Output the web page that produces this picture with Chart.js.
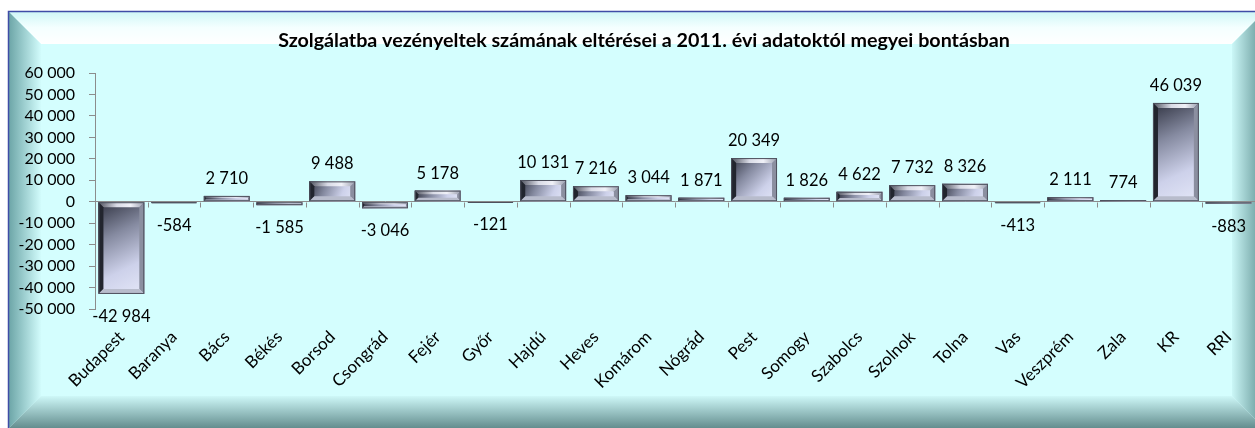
<!DOCTYPE html>
<html lang="hu">
<head>
<meta charset="utf-8">
<title>Szolgálatba vezényeltek – megyei bontás</title>
<script src="https://cdn.jsdelivr.net/npm/chart.js@4.4.1/dist/chart.umd.min.js"></script>
<style>
  html, body { margin: 0; padding: 0; background: #fff; overflow: hidden; }
  #wrap { position: relative; width: 1255px; height: 428px; }
</style>
</head>
<body>
<div id="wrap"><canvas id="chart" width="1255" height="428"></canvas></div>
<script>
const chartTitle = 'Szolgálatba vezényeltek számának eltérései a 2011. évi adatoktól megyei bontásban';

const categories = ['Budapest', 'Baranya', 'Bács', 'Békés', 'Borsod', 'Csongrád', 'Fejér', 'Győr',
    'Hajdú', 'Heves', 'Komárom', 'Nógrád', 'Pest', 'Somogy', 'Szabolcs', 'Szolnok', 'Tolna',
    'Vas', 'Veszprém', 'Zala', 'KR', 'RRI'];

const differences = [-42984, -584, 2710, -1585, 9488, -3046, 5178, -121,
    10131, 7216, 3044, 1871, 20349, 1826, 4622, 7732, 8326,
    -413, 2111, 774, 46039, -883];

const yMin = -50000;
const yMax = 60000;
const yStep = 10000;

const FONT = 'Lato';

// 12345 -> "12 345", negatives keep a plain hyphen
function formatHu(v) {
    const s = String(Math.abs(v)).replace(/\B(?=(\d{3})+(?!\d))/g, ' ');
    return v < 0 ? '-' + s : s;
}

// Bevelled light-cyan frame behind the chart, plus the title
const framePlugin = {
    id: 'frame',
    beforeDraw(chart) {
        const ctx = chart.ctx;
        const x0 = 8, y0 = 11, x1 = 1265, y1 = 429, b = 33;
        ctx.save();
        ctx.fillStyle = '#d4fefe';
        ctx.fillRect(x0, y0, x1 - x0, y1 - y0);

        const band = (pts, fill) => {
            ctx.beginPath();
            ctx.moveTo(pts[0][0], pts[0][1]);
            pts.slice(1).forEach(p => ctx.lineTo(p[0], p[1]));
            ctx.closePath();
            ctx.fillStyle = fill;
            ctx.fill();
        };

        let g = ctx.createLinearGradient(0, y0, 0, y0 + b);
        g.addColorStop(0, '#cdf6f6');
        g.addColorStop(0.5, '#f4ffff');
        g.addColorStop(1, '#ffffff');
        band([[x0, y0], [x1, y0], [x1 - b, y0 + b], [x0 + b, y0 + b]], g);

        g = ctx.createLinearGradient(x0, 0, x0 + b, 0);
        g.addColorStop(0, '#6aa3a5');
        g.addColorStop(1, '#d2fcfc');
        band([[x0, y0], [x0 + b, y0 + b], [x0 + b, y1 - b], [x0, y1]], g);

        g = ctx.createLinearGradient(x1 - b, 0, x1, 0);
        g.addColorStop(0, '#cbf7f7');
        g.addColorStop(1, '#5d8f90');
        band([[x1, y0], [x1, y1], [x1 - b, y1 - b], [x1 - b, y0 + b]], g);

        g = ctx.createLinearGradient(0, y1 - b, 0, y1);
        g.addColorStop(0, '#cef8f8');
        g.addColorStop(1, '#608a8b');
        band([[x0, y1], [x0 + b, y1 - b], [x1 - b, y1 - b], [x1, y1]], g);

        ctx.strokeStyle = '#3f4ca6';
        ctx.lineWidth = 1.5;
        ctx.strokeRect(x0 + 0.5, y0 + 0.5, x1 - x0, y1 - y0);

        ctx.font = 'bold 19.7px ' + FONT;
        ctx.fillStyle = '#000';
        ctx.textAlign = 'center';
        ctx.textBaseline = 'middle';
        ctx.fillText(chartTitle, 644, 41);
        ctx.restore();
    }
};

// small tick marks hanging under the zero line between categories
const zeroTicksPlugin = {
    id: 'zeroTicks',
    beforeDatasetsDraw(chart) {
        const ctx = chart.ctx;
        const xs = chart.scales.x, ys = chart.scales.y;
        const zy = Math.round(ys.getPixelForValue(0)) + 0.5;
        const step = (xs.right - xs.left) / categories.length;
        ctx.save();
        ctx.strokeStyle = '#8c8c8c';
        ctx.lineWidth = 1;
        ctx.beginPath();
        for (let i = 1; i <= categories.length; i++) {
            const px = Math.round(xs.left + i * step) + 0.5;
            ctx.moveTo(px, zy);
            ctx.lineTo(px, zy + 5);
        }
        ctx.stroke();
        ctx.restore();
    }
};

// metallic bevel on top of every bar
const bevelPlugin = {
    id: 'bevel',
    afterDatasetsDraw(chart) {
        const ctx = chart.ctx;
        chart.getDatasetMeta(0).data.forEach(bar => {
            const p = bar.getProps(['x', 'y', 'base', 'width'], true);
            const L = p.x - p.width / 2, R = p.x + p.width / 2;
            const T = Math.min(p.y, p.base), B = Math.max(p.y, p.base);
            const h = B - T, w = R - L;
            if (h <= 0) return;
            const r = Math.min(5, h / 3, w / 3);
            ctx.save();

            let g = ctx.createLinearGradient(L, T, R, B);
            g.addColorStop(0, '#2f3240');
            g.addColorStop(0.35, '#858aa0');
            g.addColorStop(0.7, '#cdd1ea');
            g.addColorStop(1, '#e4e7f8');
            ctx.fillStyle = g;
            ctx.fillRect(L, T, w, h);

            const quad = (pts, fill) => {
                ctx.beginPath();
                ctx.moveTo(pts[0][0], pts[0][1]);
                pts.slice(1).forEach(q => ctx.lineTo(q[0], q[1]));
                ctx.closePath();
                ctx.fillStyle = fill;
                ctx.fill();
            };

            g = ctx.createLinearGradient(L, 0, R, 0);
            g.addColorStop(0, '#50535f');
            g.addColorStop(0.4, '#d9dbe6');
            g.addColorStop(0.7, '#f0f1f8');
            g.addColorStop(1, '#9a9eae');
            quad([[L, T], [R, T], [R - r, T + r], [L + r, T + r]], g);
            quad([[L, T], [L + r, T + r], [L + r, B - r], [L, B]], '#22252e');
            quad([[R, T], [R, B], [R - r, B - r], [R - r, T + r]], '#8b8fa0');
            quad([[L, B], [L + r, B - r], [R - r, B - r], [R, B]], '#b8bccc');

            ctx.strokeStyle = '#4d505d';
            ctx.lineWidth = 1;
            ctx.strokeRect(L + 0.5, T + 0.5, Math.max(w - 1, 0), Math.max(h - 1, 0));
            ctx.restore();
        });
    }
};

// value labels outside the bar end
const valueLabelPlugin = {
    id: 'valueLabels',
    afterDatasetsDraw(chart) {
        const ctx = chart.ctx;
        const values = chart.data.datasets[0].data;
        ctx.save();
        ctx.font = '16.5px ' + FONT;
        ctx.fillStyle = '#000';
        ctx.textAlign = 'center';
        ctx.textBaseline = 'alphabetic';
        chart.getDatasetMeta(0).data.forEach((bar, i) => {
            const v = values[i];
            const p = bar.getProps(['x', 'y', 'base'], true);
            const end = v < 0 ? Math.max(p.y, p.base) : Math.min(p.y, p.base);
            const ty = v < 0 ? end + 28 : end - 12;
            ctx.fillText(formatHu(v), p.x, ty);
        });
        ctx.restore();
    }
};

new Chart(document.getElementById('chart'), {
    type: 'bar',
    data: {
        labels: categories,
        datasets: [{
            data: differences,
            backgroundColor: '#8a8fa5',
            borderWidth: 0,
            categoryPercentage: 0.87,
            barPercentage: 1
        }]
    },
    options: {
        responsive: false,
        animation: false,
        layout: { padding: { top: 73, left: 0, right: 0, bottom: 0 } },
        plugins: {
            legend: { display: false },
            tooltip: { enabled: false },
            title: { display: false }
        },
        scales: {
            x: {
                grid: { display: false },
                border: { display: false },
                ticks: {
                    autoSkip: false,
                    minRotation: 45,
                    maxRotation: 45,
                    padding: 10,
                    color: '#000',
                    font: { family: FONT, size: 17 }
                },
                afterFit(scale) { scale.height = 119; }
            },
            y: {
                min: yMin,
                max: yMax,
                ticks: {
                    stepSize: yStep,
                    autoSkip: false,
                    padding: 14,
                    color: '#000',
                    font: { family: FONT, size: 16 },
                    callback: v => formatHu(v)
                },
                grid: {
                    color: c => (c.tick && c.tick.value === 0) ? '#8c8c8c' : 'rgba(0,0,0,0)',
                    tickColor: '#8c8c8c',
                    tickLength: 6
                },
                border: { display: true, color: '#8c8c8c' },
                afterFit(scale) { scale.width = 95; }
            }
        }
    },
    plugins: [framePlugin, zeroTicksPlugin, bevelPlugin, valueLabelPlugin]
});
</script>
</body>
</html>
